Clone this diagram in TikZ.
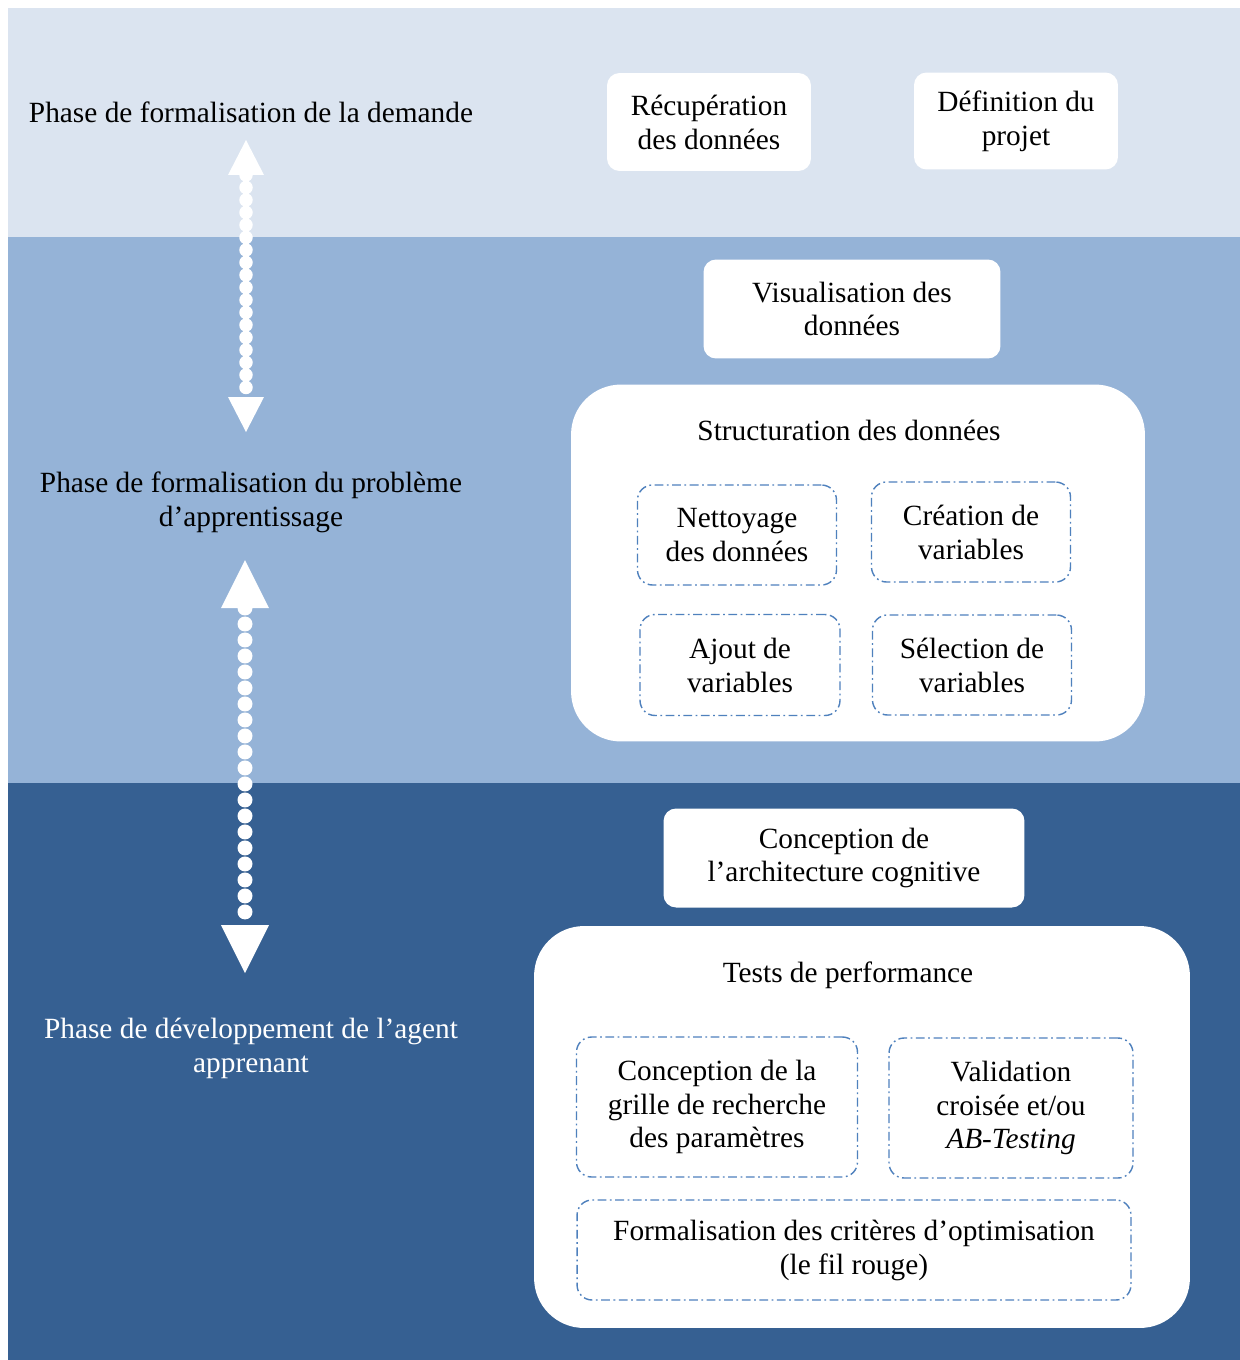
\documentclass[tikz,border=0pt]{standalone}
\usepackage{fontspec}
\setmainfont{Liberation Serif}
\usetikzlibrary{arrows.meta}
\definecolor{bandeA}{HTML}{DBE4F0}
\definecolor{bandeB}{HTML}{95B3D7}
\definecolor{bandeC}{HTML}{366092}
\definecolor{tiret}{HTML}{4F81BD}

\begin{document}
\begin{tikzpicture}[x=0.02cm, y=-0.02cm,
        every node/.style={font=\fontsize{16.7}{19.3}\selectfont, align=center},
        phase/.style={inner sep=0pt},
        etape/.style={rectangle, rounded corners=0.25cm, fill=white},
        bloc/.style={rectangle, rounded corners=1cm, fill=white},
        sousetape/.style={rectangle, rounded corners=0.3cm, draw=tiret, line width=0.8pt, dash pattern=on 5pt off 2pt on 1pt off 2pt},
        lien/.style={white, line cap=round}]
        \fill[white] (0,0) rectangle (1240,1360);
        \useasboundingbox (0,0) rectangle (1240,1360);
        \fill[bandeA] (8,8) rectangle (1240,237);
        \fill[bandeB] (8,237) rectangle (1240,783);
        \fill[bandeC] (8,783) rectangle (1240,1360);

        \node[phase] (demande) at (251,112) {Phase de formalisation de la demande};
        \node[phase] (probleme) at (251,502) {Phase de formalisation du problème\\d’apprentissage};
        \node[phase, text=white] (agent) at (251,1048) {Phase de développement de l’agent\\apprenant};

        \coordinate (h1) at (246,140);
        \coordinate (b1) at (246,432);
        \coordinate (h2) at (245,560);
        \coordinate (b2) at (245,973);
        \draw[lien, line width=0.27cm, dash pattern=on 0pt off 0.25cm,
            {Triangle[width=0.72cm, length=0.7cm, line width=0pt]}-{Triangle[width=0.72cm, length=0.7cm, line width=0pt]}] (h1) -- (b1);
        \draw[lien, line width=0.3cm, dash pattern=on 0pt off 0.32cm,
            {Triangle[width=0.96cm, length=0.96cm, line width=0pt]}-{Triangle[width=0.96cm, length=0.96cm, line width=0pt]}] (h2) -- (b2);

        \node[etape, minimum width=4.08cm, minimum height=1.96cm] (recup) at (709,122) {Récupération\\des données};
        \node[etape, minimum width=4.08cm, minimum height=1.94cm] (projet) at (1016,121) {Définition du\\projet};
        \node[etape, minimum width=5.94cm, minimum height=1.98cm] (visu) at (852,309) {Visualisation des\\données};

        \node[bloc, minimum width=11.48cm, minimum height=7.14cm] (struct) at (858,563) {};
        \node (titrestruct) at (849,430) {Structuration des données};
        \node[sousetape, minimum width=3.98cm, minimum height=2cm] (nettoyage) at (737,535) {Nettoyage\\des données};
        \node[sousetape, minimum width=3.98cm, minimum height=2cm] (creation) at (971,532) {Création de\\variables};
        \node[sousetape, minimum width=4cm, minimum height=2.02cm] (ajout) at (740,665) {Ajout de\\variables};
        \node[sousetape, minimum width=3.98cm, minimum height=2cm] (selection) at (972,665) {Sélection de\\variables};

        \node[etape, minimum width=7.22cm, minimum height=1.98cm] (archi) at (844,858) {Conception de\\l’architecture cognitive};

        \node[bloc, minimum width=13.12cm, minimum height=8.04cm] (tests) at (862,1127) {};
        \node (titretests) at (848,975) {Tests de performance};
        \node[sousetape, minimum width=5.62cm, minimum height=2.8cm] (grille) at (717,1107) {Conception de la\\grille de recherche\\des paramètres};
        \node[sousetape, minimum width=4.88cm, minimum height=2.8cm] (validation) at (1011,1108) {Validation\\croisée et/ou\\\textit{AB-Testing}};
        \node[sousetape, minimum width=11.08cm, minimum height=2cm] (criteres) at (854,1250) {Formalisation des critères d’optimisation\\(le fil rouge)};
    \end{tikzpicture}
\end{document}
